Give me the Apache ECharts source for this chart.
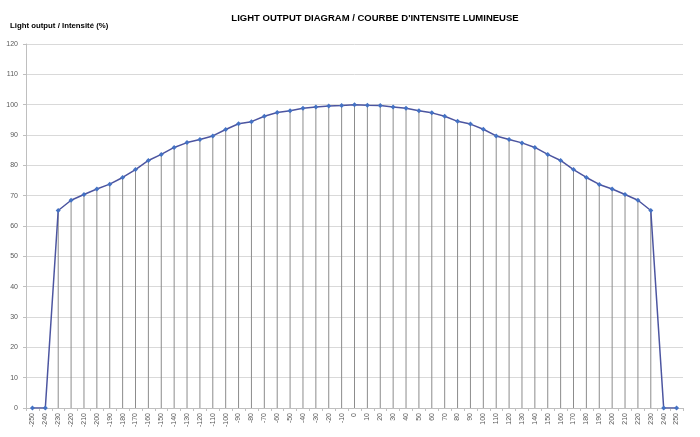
<!DOCTYPE html>
<html><head><meta charset="utf-8">
<script src="https://cdn.jsdelivr.net/npm/echarts@6/dist/echarts.min.js"></script>
<style>html,body{margin:0;padding:0;background:#fff}#c{width:700px;height:437px}</style>
</head><body><div id="c"></div>
<script>
const categories = ['-250','-240','-230','-220','-210','-200','-190','-180','-170','-160','-150','-140','-130','-120','-110','-100','-90','-80','-70','-60','-50','-40','-30','-20','-10','0','10','20','30','40','50','60','70','80','90','100','110','120','130','140','150','160','170','180','190','200','210','220','230','240','250'];
const lightOutput = [0,0,65.1,68.5,70.4,72.2,73.8,76.0,78.6,81.6,83.6,85.9,87.5,88.5,89.7,91.8,93.7,94.4,96.2,97.4,98.0,98.8,99.2,99.6,99.7,100,99.8,99.7,99.2,98.8,98.0,97.3,96.2,94.5,93.6,91.9,89.7,88.5,87.4,85.9,83.6,81.6,78.6,76.0,73.7,72.2,70.4,68.5,65.1,0,0];
const titleText = "LIGHT OUTPUT DIAGRAM / COURBE D'INTENSITE LUMINEUSE";
const yAxisName = 'Light output / Intensité (%)';

const chart = echarts.init(document.getElementById('c'), null, {renderer:'canvas'});
chart.setOption({
  animation:false,
  backgroundColor:'#fff',
  textStyle:{fontFamily:'Liberation Sans, Arial, sans-serif'},
  title:{text:titleText,left:370,top:8,textAlign:'center',
    textStyle:{fontSize:9.5,fontWeight:'bold',color:'#000',fontFamily:'Liberation Sans, Arial, sans-serif'}},
  graphic:[{type:'text',left:10,top:22,style:{text:yAxisName,fontSize:7.8,fontWeight:'bold',fill:'#000',fontFamily:'Liberation Sans, Arial, sans-serif'}}],
  grid:{left:26,right:17,top:44,bottom:29,containLabel:false},
  xAxis:{type:'category',data:categories,boundaryGap:true,
    axisLine:{lineStyle:{color:'#bfbfbf'}},
    axisTick:{show:true,alignWithLabel:false,length:3,lineStyle:{color:'#bfbfbf'}},
    axisLabel:{rotate:90,fontSize:7,color:'#595959',margin:5,interval:0},
    splitLine:{show:false}},
  yAxis:{type:'value',min:0,max:120,interval:10,
    axisLine:{show:true,lineStyle:{color:'#bfbfbf'}},
    axisTick:{show:true,length:3,lineStyle:{color:'#bfbfbf'}},
    axisLabel:{fontSize:7,color:'#595959',margin:8},
    splitLine:{show:true,lineStyle:{color:'#d9d9d9',width:1}}},
  series:[
    {type:'bar',data:lightOutput,barWidth:1,itemStyle:{color:'#8c8c8c'},silent:true,z:1},
    {type:'line',data:lightOutput,symbol:'diamond',symbolSize:5,
     lineStyle:{color:'#4c55a0',width:1.5},itemStyle:{color:'#4472c4'},z:3}
  ]
});
</script></body></html>
